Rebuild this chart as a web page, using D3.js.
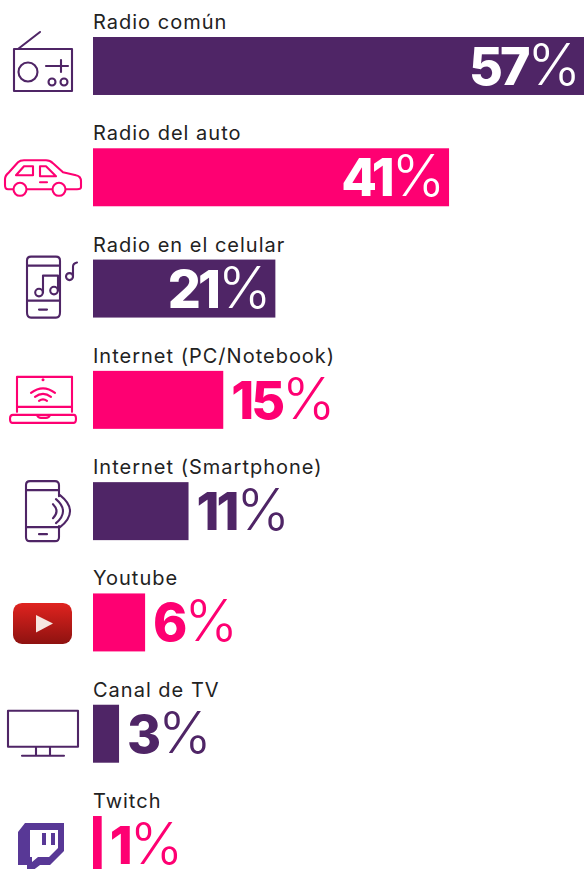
<!DOCTYPE html>
<html>
<head>
<meta charset="utf-8">
<script src="https://cdnjs.cloudflare.com/ajax/libs/d3/7.8.5/d3.min.js"></script>
<style>
html, body { margin: 0; padding: 0; background: #fff; overflow: hidden; }
svg { display: block; }
text { font-family: Inter, sans-serif; }
</style>
</head>
<body>
<svg id="chart"></svg>
<script>
const categories = ["Radio común", "Radio del auto", "Radio en el celular", "Internet (PC/Notebook)",
    "Internet (Smartphone)", "Youtube", "Canal de TV", "Twitch"];
const values = [57, 41, 21, 15, 11, 6, 3, 1];
const iconNames = ["radio", "car", "phoneMusic", "laptop", "phoneSound", "youtube", "tv", "twitch"];

const purple = "#4f2566";
const pink = "#fe0072";
const width = 584, height = 869;
const sw = 2.1;

const svg = d3.select("#chart").attr("width", width).attr("height", height);

const defs = svg.append("defs");
const grad = defs.append("linearGradient").attr("id", "yt").attr("x1", 0).attr("x2", 0).attr("y1", 0).attr("y2", 1);
grad.append("stop").attr("offset", "0%").attr("stop-color", "#e0231f");
grad.append("stop").attr("offset", "100%").attr("stop-color", "#8e1210");

const x = d3.scaleLinear().domain([0, 57]).range([93, 588]);
const y = d3.scaleBand().domain(categories).range([37, 874]).paddingInner(0.479);
const colour = (d, i) => i % 2 ? pink : purple;

const rows = svg.selectAll(".row")
    .data(categories)
    .enter().append("g")
    .attr("class", "row")
    .attr("transform", (d) => `translate(0, ${y(d)})`);

rows.append("rect")
    .attr("x", x(0))
    .attr("y", 0)
    .attr("width", (d, i) => x(values[i]) - x(0))
    .attr("height", y.bandwidth())
    .style("fill", colour);

rows.append("text")
    .attr("x", x(0))
    .attr("y", -8)
    .style("font-size", "20px")
    .style("letter-spacing", "1px")
    .style("fill", "#222")
    .text((d) => d);

// big figures sit inside the three long bars, after the bar for the rest
const label = rows.append("text")
    .attr("x", (d, i) => values[i] === 57 ? 581 : values[i] > 20 ? x(values[i]) - 4 : x(values[i]) + 8)
    .attr("y", 48)
    .attr("text-anchor", (d, i) => values[i] > 20 ? "end" : "start")
    .style("font-size", "52px")
    .style("fill", (d, i) => values[i] > 20 ? "#fff" : colour(d, i));

label.append("tspan").style("font-weight", 800).style("letter-spacing", "-3px").text((d, i) => values[i]);
label.append("tspan").style("font-weight", 300).style("font-size", "57px").text("%");

// icons, local y is relative to the top of the bar
const line = (g, c, d) => g.append("path").attr("d", d)
    .style("fill", "none").style("stroke", c).style("stroke-width", sw)
    .style("stroke-linecap", "round").style("stroke-linejoin", "round");
const ring = (g, c, cx, cy, r) => g.append("circle").attr("cx", cx).attr("cy", cy).attr("r", r)
    .style("fill", "#fff").style("stroke", c).style("stroke-width", sw);

const icons = {
    radio(g) {
        line(g, purple, "M14,12H72V54H14Z M18,12L40,-5");
        line(g, purple, "M46,29H68 M61,23V35");
        ring(g, purple, 28, 35, 9.5);
        ring(g, purple, 52, 45, 3.5);
        ring(g, purple, 64, 45, 3.5);
    },
    car(g) {
        line(g, pink, "M13,41H8Q5,41 5,37V31Q5,27 9,24L18,14Q20,12 24,12H46Q50,12 53,15L63,24L76,27Q81,28 81,33V39Q81,41 77,41H66 M27,41H52");
        line(g, pink, "M16,27L24,18H33V27Z M40,18H46L56,28H40Z M40,34H47");
        ring(g, pink, 20, 41, 6.5);
        ring(g, pink, 59, 41, 6.5);
    },
    phoneMusic(g) {
        line(g, purple, "M31,-3H56Q60,-3 60,1V53Q60,58 56,58H31Q27,58 27,53V1Q27,-3 31,-3Z M27,6H60 M27,41H60 M39,50H47");
        line(g, purple, "M43,33V16H58V31");
        ring(g, purple, 39, 33, 3.8);
        ring(g, purple, 54, 31, 3.8);
        line(g, purple, "M73,17V7Q73,4 77,3");
        ring(g, purple, 69.5, 17, 3.5);
    },
    laptop(g) {
        line(g, pink, "M17,41V6H72V41 M17,36H72 M13,44H74Q76,44 76,48Q76,52 74,52H12Q10,52 10,48Q10,44 13,44Z M37,44Q38,47 41,47H46Q49,47 50,44");
        line(g, pink, "M31,22Q43,13 55,22 M35,26Q43,20 51,26 M39,30Q43,27 47,30");
        g.append("circle").attr("cx", 43).attr("cy", 9).attr("r", 1.5).style("fill", pink);
    },
    phoneSound(g) {
        line(g, purple, "M59,14V3Q59,-1 55,-1H30Q26,-1 26,3V55Q26,59 30,59H55Q59,59 59,55V44 M26,8H59 M26,45H59 M39,52H47");
        line(g, purple, "M53,22Q60,29 53,36 M56,17Q70,29 56,41 M60,13Q80,29 60,45");
    },
    youtube(g) {
        g.append("rect").attr("x", 13).attr("y", 9.5).attr("width", 59).attr("height", 41).attr("rx", 9).style("fill", "url(#yt)");
        g.append("path").attr("d", "M36,21.5L53,30L36,39Z").style("fill", "#f6e6e0");
    },
    tv(g) {
        line(g, purple, "M8,6H78V42H8Z M36,42V51 M50,42V51 M22,51H64");
    },
    twitch(g) {
        g.append("path").attr("d", "M25,7H64V35L50,49H40L32,55H27V49H18V16Z").style("fill", "#583896");
        g.append("path").attr("d", "M30,14H58V32L49,41H38L32,46V41H30Z").style("fill", "#fff");
        g.append("path").attr("d", "M42,17H46V29H42Z M51,17H55V29H51Z").style("fill", "#583896");
    }
};

rows.each(function (d, i) {
    icons[iconNames[i]](d3.select(this).append("g"));
});
</script>
</body>
</html>
